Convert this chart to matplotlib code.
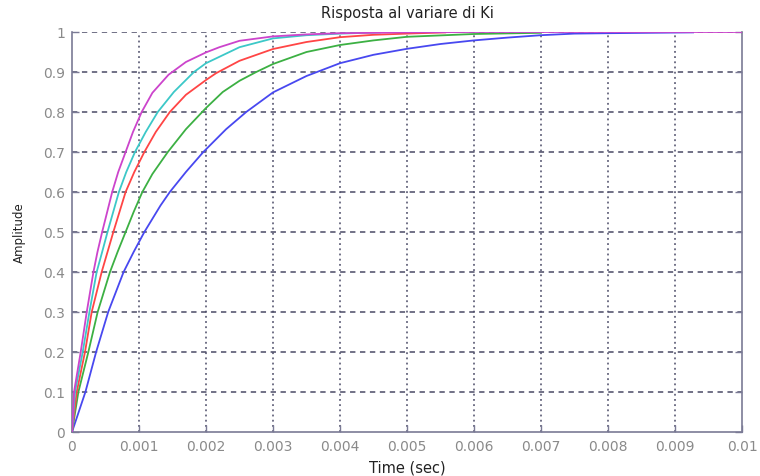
import numpy as np
import matplotlib.pyplot as plt

# risposte al gradino (tempo in ms, ampiezza)
t_blue = [0, 0.1, 0.2, 0.36, 0.54, 0.77, 0.92, 1.08, 1.32, 1.46, 1.70, 1.96, 2.3, 2.6, 3.0, 3.5,
          4.0, 4.5, 5.0, 5.5, 6.0, 6.5, 7.0, 7.5, 8.0, 9.27]
y_blue = [0, 0.05, 0.10, 0.20, 0.30, 0.40, 0.45, 0.50, 0.566, 0.60, 0.65, 0.70, 0.757, 0.80, 0.849, 0.89,
          0.922, 0.943, 0.958, 0.970, 0.979, 0.986, 0.992, 0.996, 0.997, 0.999]

t_green = [0, 0.095, 0.244, 0.383, 0.567, 0.68, 0.80, 0.92, 1.05, 1.20, 1.43, 1.70, 2.0, 2.25, 2.5, 2.75,
           3.0, 3.5, 4.0, 4.5, 5.0, 6.0, 7.0]
y_green = [0, 0.10, 0.20, 0.30, 0.40, 0.45, 0.50, 0.55, 0.60, 0.645, 0.70, 0.757, 0.81, 0.85, 0.878, 0.90,
           0.92, 0.95, 0.9675, 0.979, 0.988, 0.995, 0.998]

t_red = [0, 0.07, 0.194, 0.294, 0.443, 0.53, 0.617, 0.80, 0.93, 1.08, 1.25, 1.46, 1.70, 2.0, 2.15,
         2.5, 3.0, 3.5, 4.0, 4.5, 5.0, 5.57]
y_red = [0, 0.10, 0.20, 0.30, 0.40, 0.45, 0.50, 0.60, 0.65, 0.70, 0.75, 0.80, 0.843, 0.880, 0.897,
         0.928, 0.9575, 0.975, 0.987, 0.993, 0.996, 0.999]

t_cyan = [0, 0.045, 0.16, 0.26, 0.368, 0.45, 0.53, 0.70, 0.81, 0.94, 1.10, 1.28, 1.52, 1.82, 2.0,
          2.5, 3.0, 3.5, 4.0, 4.6]
y_cyan = [0, 0.10, 0.20, 0.30, 0.40, 0.45, 0.50, 0.60, 0.65, 0.70, 0.75, 0.80, 0.85, 0.90, 0.922,
          0.962, 0.984, 0.992, 0.996, 0.999]

t_mag = [0, 0.03, 0.13, 0.22, 0.32, 0.38, 0.45, 0.60, 0.69, 0.80, 0.91, 1.04, 1.20, 1.44, 1.70,
         2.0, 2.2, 2.5, 3.0, 3.5, 4.0, 5.0, 6.0, 10.0]
y_mag = [0, 0.10, 0.20, 0.30, 0.40, 0.45, 0.50, 0.60, 0.65, 0.70, 0.75, 0.80, 0.848, 0.893, 0.925,
         0.949, 0.962, 0.978, 0.989, 0.994, 0.997, 0.999, 1.0, 1.0]

x_ticks = [0, 0.001, 0.002, 0.003, 0.004, 0.005, 0.006, 0.007, 0.008, 0.009, 0.01]
x_labels = ['0', '0.001', '0.002', '0.003', '0.004', '0.005', '0.006', '0.007', '0.008', '0.009', '0.01']
y_ticks = [0, 0.1, 0.2, 0.3, 0.4, 0.5, 0.6, 0.7, 0.8, 0.9, 1]
y_labels = ['0', '0.1', '0.2', '0.3', '0.4', '0.5', '0.6', '0.7', '0.8', '0.9', '1']


def main():
    plt.rcParams['font.family'] = ['DejaVu Sans']

    fig = plt.figure(figsize=(7.6, 4.77), dpi=100)
    ax = fig.add_axes([72 / 760, 1 - 433 / 477, 670 / 760, 400 / 477])

    grid_c = '#4a4a66'
    for yv in y_ticks[1:]:
        ax.axhline(yv, color=grid_c, lw=1.1, dashes=(3.5, 3), zorder=1)
    for xv in x_ticks[1:-1]:
        ax.axvline(xv, color=grid_c, lw=1.1, dashes=(1.2, 2.2), zorder=1)

    series = [
        (t_blue, y_blue, '#4848f0'),
        (t_green, y_green, '#3cb043'),
        (t_red, y_red, '#ff4545'),
        (t_cyan, y_cyan, '#3cc8c8'),
        (t_mag, y_mag, '#cc44cc'),
    ]
    for t, y, c in series:
        ax.plot(np.array(t) / 1000.0, y, color=c, lw=1.3, zorder=3)

    ax.set_xlim(0, 0.01)
    ax.set_ylim(0, 1)
    ax.set_xticks(x_ticks)
    ax.set_xticklabels(x_labels)
    ax.set_yticks(y_ticks)
    ax.set_yticklabels(y_labels)

    spine_c = '#7a7a95'
    for s in ['left', 'bottom', 'right']:
        ax.spines[s].set_color(spine_c)
        ax.spines[s].set_linewidth(1.2)
    ax.spines['top'].set_visible(False)

    ax.tick_params(direction='in', length=5, width=1.0, color=spine_c,
                   labelcolor='#8a8a8a', labelsize=10, pad=5,
                   right=True, top=False)

    ax.set_title('Risposta al variare di Ki', fontsize=10.5, color='#222222', pad=11)
    ax.set_xlabel('Time (sec)', fontsize=10.5, color='#222222', labelpad=5)
    ax.set_ylabel('Amplitude', fontsize=8.5, color='#222222', labelpad=12)

    fig.savefig('out.png', dpi=100)


if __name__ == "__main__":
    main()
